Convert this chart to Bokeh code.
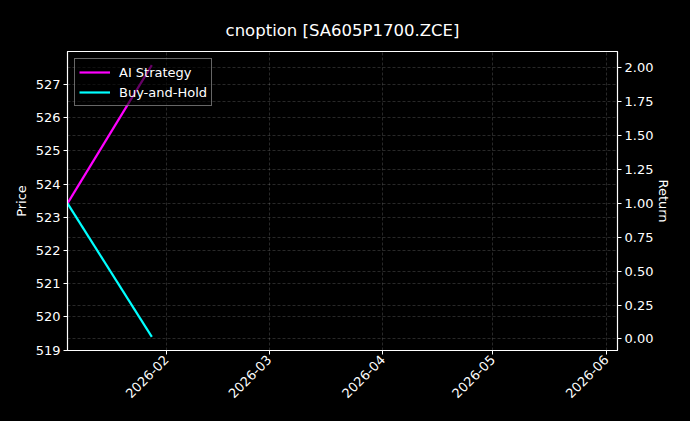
import math
from datetime import datetime

from bokeh.plotting import figure
from bokeh.models import (ColumnDataSource, LinearAxis, Range1d, Grid,
                          MonthsTicker, DatetimeTickFormatter, SingleIntervalTicker,
                          NumeralTickFormatter, Legend, LegendItem)
from bokeh.embed import file_html
from bokeh.resources import INLINE

# --- data ---
dates = [datetime(2026, 1, 5), datetime(2026, 1, 28)]
ai_strategy = [1.0, 2.02]
buy_hold = [1.0, 0.015]
price_low, price_high = 519.4, 527.58      # price extent used for the left axis
x_start, x_end = datetime(2026, 1, 5), datetime(2026, 6, 4)

TITLE = "cnoption [SA605P1700.ZCE]"
FONT = "DejaVu Sans"
FG = "#ffffff"
BG = "#000000"

# matplotlib style 5% margins
pm = (price_high - price_low) * 0.05
allr = ai_strategy + buy_hold
rm = (max(allr) - min(allr)) * 0.05

source = ColumnDataSource(dict(date=dates, ai=ai_strategy, bh=buy_hold))

p = figure(
    width=674, height=405,
    x_axis_type="datetime",
    x_range=Range1d(x_start, x_end),
    y_range=Range1d(price_low - pm, price_high + pm),
    output_backend="svg", toolbar_location=None,
    background_fill_color=BG, border_fill_color=BG,
    min_border_left=67, min_border_right=53, min_border_top=51, min_border_bottom=54,
)
p.outline_line_color = FG
p.outline_line_width = 1.2

p.title.text = TITLE
p.title.align = "center"
p.title.vertical_align = "top"
p.title.text_color = FG
p.title.text_font = FONT
p.title.text_font_style = "normal"
p.title.text_font_size = "16.5px"
p.title.standoff = 20

p.extra_y_ranges = {"ret": Range1d(min(allr) - rm, max(allr) + rm)}
right = LinearAxis(y_range_name="ret", axis_label="Return",
                   ticker=SingleIntervalTicker(interval=0.25),
                   formatter=NumeralTickFormatter(format="0.00"))
p.add_layout(right, "right")

p.xaxis.ticker = MonthsTicker(months=list(range(1, 13)))
p.xaxis.formatter = DatetimeTickFormatter(months="%Y-%m", days="%Y-%m", years="%Y-%m")
p.xaxis.major_label_orientation = math.pi / 4
p.yaxis[0].axis_label = "Price"
p.yaxis[0].ticker = SingleIntervalTicker(interval=1)

for ax in [p.xaxis[0], p.yaxis[0], right]:
    ax.axis_line_color = FG
    ax.major_tick_line_color = FG
    ax.major_tick_out = 4
    ax.major_tick_in = 0
    ax.minor_tick_line_color = None
    ax.major_label_text_color = FG
    ax.major_label_text_font = FONT
    ax.major_label_text_font_size = "13px"
    ax.axis_label_text_color = FG
    ax.axis_label_text_font = FONT
    ax.axis_label_text_font_size = "13px"
    ax.axis_label_text_font_style = "normal"
    ax.axis_label_standoff = 4
    ax.major_label_standoff = 3
right.axis_label_standoff = 0
right.major_label_standoff = 3

for g in p.grid:
    g.grid_line_color = FG
    g.grid_line_alpha = 0.2
    g.grid_line_dash = "3 2"
    g.grid_line_width = 0.8
rgrid = Grid(dimension=1, ticker=right.ticker, y_range_name="ret",
             grid_line_color=FG, grid_line_alpha=0.2, grid_line_dash="3 2",
             grid_line_width=0.8)
p.add_layout(rgrid)

r_ai = p.line("date", "ai", source=source, y_range_name="ret",
              line_color="#ff00ff", line_width=2.2)
r_bh = p.line("date", "bh", source=source, y_range_name="ret",
              line_color="#00ffff", line_width=2.2)

legend = Legend(items=[LegendItem(label="AI Strategy", renderers=[r_ai]),
                       LegendItem(label="Buy-and-Hold", renderers=[r_bh])],
                location="top_left")
legend.margin = 7
legend.padding = 4
legend.spacing = 2
legend.glyph_width = 31
legend.glyph_height = 18
legend.label_height = 18
legend.label_standoff = 9
legend.label_text_color = FG
legend.label_text_font = FONT
legend.label_text_font_size = "13px"
legend.background_fill_color = BG
legend.background_fill_alpha = 0.6
legend.border_line_color = "#cccccc"
legend.border_line_width = 1
p.add_layout(legend, "center")

html = file_html(p, INLINE)
html = html.replace("</head>", "<style>html, body { background-color: #000000; }</style></head>", 1)
open("out.html", "w").write(html)
